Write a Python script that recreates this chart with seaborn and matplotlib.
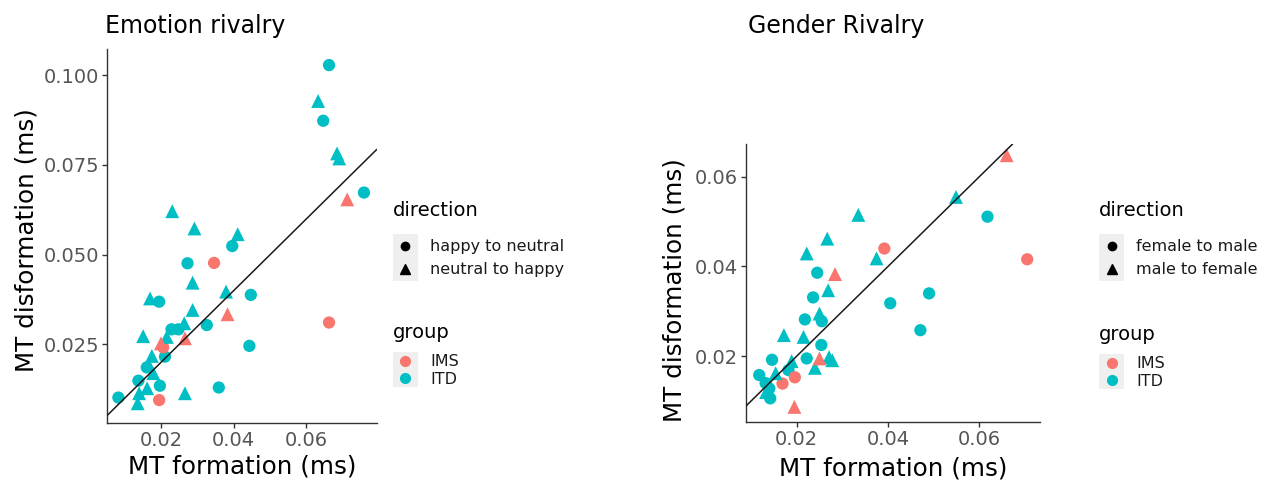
import numpy as np
import pandas as pd
import matplotlib
matplotlib.use("Agg")
import matplotlib.pyplot as plt
import seaborn as sns
from matplotlib.lines import Line2D
from matplotlib.patches import Rectangle
from matplotlib.legend_handler import HandlerBase
from matplotlib.ticker import FixedLocator, FuncFormatter

# ---------------- data ----------------
# Emotion rivalry: MT formation (x) vs MT disformation (y)
emo_itd_h2n_x = [0.0662, 0.0646, 0.0758, 0.0396, 0.0273, 0.0447, 0.0195, 0.0326, 0.0229,
                 0.0248, 0.0443, 0.0211, 0.0161, 0.0138, 0.0197, 0.0359, 0.0083]
emo_itd_h2n_y = [0.1028, 0.0873, 0.0673, 0.0524, 0.0476, 0.0388, 0.0369, 0.0304, 0.0292,
                 0.0292, 0.0246, 0.0216, 0.0186, 0.0149, 0.0135, 0.0130, 0.0102]
emo_itd_n2h_x = [0.0632, 0.0684, 0.0690, 0.0231, 0.0292, 0.0411, 0.0287, 0.0379, 0.0170,
                 0.0287, 0.0264, 0.0151, 0.0216, 0.0175, 0.0179, 0.0162, 0.0266, 0.0140, 0.0136]
emo_itd_n2h_y = [0.0928, 0.0782, 0.0768, 0.0621, 0.0573, 0.0557, 0.0422, 0.0397, 0.0378,
                 0.0346, 0.0309, 0.0273, 0.0271, 0.0218, 0.0170, 0.0128, 0.0114, 0.0114, 0.0086]
emo_ims_h2n_x = [0.0346, 0.0662, 0.0206, 0.0195]
emo_ims_h2n_y = [0.0477, 0.0311, 0.0242, 0.0095]
emo_ims_n2h_x = [0.0712, 0.0383, 0.0200, 0.0266]
emo_ims_n2h_y = [0.0654, 0.0334, 0.0253, 0.0267]

# Gender rivalry
gen_itd_f2m_x = [0.0618, 0.0245, 0.0490, 0.0236, 0.0405, 0.0255, 0.0218, 0.0471, 0.0254,
                 0.0222, 0.0146, 0.0118, 0.0132, 0.0142, 0.0182, 0.0140]
gen_itd_f2m_y = [0.0511, 0.0386, 0.0340, 0.0331, 0.0318, 0.0278, 0.0282, 0.0258, 0.0225,
                 0.0195, 0.0192, 0.0158, 0.0140, 0.0106, 0.0169, 0.0128]
gen_itd_m2f_x = [0.0549, 0.0335, 0.0267, 0.0222, 0.0375, 0.0269, 0.0250, 0.0172, 0.0215,
                 0.0271, 0.0278, 0.0240, 0.0189, 0.0154, 0.0133]
gen_itd_m2f_y = [0.0555, 0.0515, 0.0462, 0.0429, 0.0418, 0.0347, 0.0295, 0.0247, 0.0243,
                 0.0198, 0.0191, 0.0174, 0.0189, 0.0162, 0.0120]
gen_ims_f2m_x = [0.0392, 0.0705, 0.0196, 0.0169]
gen_ims_f2m_y = [0.0440, 0.0416, 0.0153, 0.0139]
gen_ims_m2f_x = [0.0660, 0.0284, 0.0250, 0.0195]
gen_ims_m2f_y = [0.0648, 0.0383, 0.0195, 0.0087]

groups = ["IMS", "ITD"]
emo_directions = ["happy to neutral", "neutral to happy"]
gen_directions = ["female to male", "male to female"]

emo_xticks = [0.02, 0.04, 0.06]
emo_yticks = [0.025, 0.050, 0.075, 0.100]
gen_xticks = [0.02, 0.04, 0.06]
gen_yticks = [0.02, 0.04, 0.06]

# ---------------- styling ----------------
W, H = 1273, 484
PAL = {"IMS": "#F8766D", "ITD": "#00BFC4"}
KEY_BG = "#EFEFEF"
TICK_COLOR = "#555555"
AXIS_COLOR = "#333333"

sns.set_theme(style="ticks")
plt.rcParams["font.family"] = ["DejaVu Sans"]
plt.rcParams["axes.linewidth"] = 1.0
plt.rcParams["text.color"] = "black"


def build_frame(parts, directions):
    rows = []
    for (xs, ys, grp, d) in parts:
        for x, y in zip(xs, ys):
            rows.append({"formation": x, "disformation": y, "group": grp, "direction": directions[d]})
    return pd.DataFrame(rows)


emo_df = build_frame([
    (emo_itd_h2n_x, emo_itd_h2n_y, "ITD", 0),
    (emo_itd_n2h_x, emo_itd_n2h_y, "ITD", 1),
    (emo_ims_h2n_x, emo_ims_h2n_y, "IMS", 0),
    (emo_ims_n2h_x, emo_ims_n2h_y, "IMS", 1),
], emo_directions)

gen_df = build_frame([
    (gen_itd_f2m_x, gen_itd_f2m_y, "ITD", 0),
    (gen_itd_m2f_x, gen_itd_m2f_y, "ITD", 1),
    (gen_ims_f2m_x, gen_ims_f2m_y, "IMS", 0),
    (gen_ims_m2f_x, gen_ims_m2f_y, "IMS", 1),
], gen_directions)


def draw_panel(ax, df, directions, xlim, ylim, xticks, yticks, yfmt):
    for d, mk, s in zip(directions, ["o", "^"], [78, 100]):
        sub = df[df["direction"] == d]
        sns.scatterplot(data=sub, x="formation", y="disformation", hue="group",
                        hue_order=groups, palette=PAL, marker=mk, s=s,
                        linewidth=0, legend=False, ax=ax, zorder=2)
    ax.axline((0, 0), slope=1, color="#1a1a1a", lw=1.1, zorder=3)
    ax.set_xlim(*xlim)
    ax.set_ylim(*ylim)
    ax.xaxis.set_major_locator(FixedLocator(xticks))
    ax.yaxis.set_major_locator(FixedLocator(yticks))
    ax.xaxis.set_major_formatter(FuncFormatter(lambda v, p: f"{v:.2f}"))
    ax.yaxis.set_major_formatter(FuncFormatter(lambda v, p: yfmt.format(v)))
    for side in ["top", "right"]:
        ax.spines[side].set_visible(False)
    for side in ["left", "bottom"]:
        ax.spines[side].set_color(AXIS_COLOR)
        ax.spines[side].set_linewidth(1.0)
    ax.tick_params(axis="both", length=3.5, width=1.0, color=AXIS_COLOR,
                   labelcolor=TICK_COLOR, labelsize=14, pad=2.5)
    ax.set_xlabel("MT formation (ms)", fontsize=17.7, color="black")
    ax.set_ylabel("MT disformation (ms)", fontsize=17.7, color="black")
    ax.xaxis.label.set_va("center")
    ax.yaxis.label.set_va("center")


class KeyHandler(HandlerBase):
    """Legend key drawn as a light grey square with the marker centred on it."""

    def create_artists(self, legend, orig_handle, xdescent, ydescent, width, height, fontsize, trans):
        bg = Rectangle((-xdescent, -ydescent), width, height, facecolor=KEY_BG,
                       edgecolor="none", transform=trans)
        mk = Line2D([width / 2 - xdescent], [height / 2 - ydescent],
                    marker=orig_handle.get_marker(), color=orig_handle.get_color(),
                    markersize=orig_handle.get_markersize(), linestyle="none",
                    transform=trans)
        return [bg, mk]


def add_key_legend(fig, handles, labels, x_px, top_px, key_h_px, fs=11.5):
    fpx = fs * 100 / 72
    # legend handle box height = fpx * (0.65 * handleheight + 0.245)
    hh = (key_h_px / fpx - 0.245) / 0.65
    fig.legend(handles, labels, loc="upper left",
               bbox_to_anchor=(x_px / W, 1 - top_px / H), bbox_transform=fig.transFigure,
               frameon=False, borderpad=0, borderaxespad=0, labelspacing=0,
               handlelength=25 / fpx, handleheight=hh,
               handletextpad=12 / fpx, fontsize=fs, labelcolor="#1a1a1a",
               handler_map={Line2D: KeyHandler()})


def add_legends(fig, directions, x_px, dir_title_y, dir_top, grp_title_y, grp_top):
    fig.text(x_px / W, 1 - dir_title_y / H, "direction", fontsize=14, va="center", ha="left")
    dir_handles = [Line2D([], [], marker="o", color="black", linestyle="none", markersize=6),
                   Line2D([], [], marker="^", color="black", linestyle="none", markersize=7)]
    add_key_legend(fig, dir_handles, directions, x_px, dir_top, 23.5)
    fig.text(x_px / W, 1 - grp_title_y / H, "group", fontsize=14, va="center", ha="left")
    grp_handles = [Line2D([], [], marker="o", color=PAL[g], linestyle="none", markersize=7)
                   for g in groups]
    add_key_legend(fig, grp_handles, groups, x_px, grp_top, 17.5)


fig = plt.figure(figsize=(W / 100, H / 100), dpi=100)
fig.patch.set_facecolor("white")

ax1 = fig.add_axes([107.3 / W, 1 - 422.7 / H, (376.7 - 107.3) / W, (422.7 - 49.3) / H])
ax2 = fig.add_axes([746 / W, 1 - 421.7 / H, (1040 - 746) / W, (421.7 - 144) / H])

draw_panel(ax1, emo_df, emo_directions, (0.00525, 0.0793), (0.0032, 0.1072),
           emo_xticks, emo_yticks, "{:.3f}")
draw_panel(ax2, gen_df, gen_directions, (0.0089, 0.0733), (0.0054, 0.0673),
           gen_xticks, gen_yticks, "{:.2f}")

ax1.xaxis.set_label_coords(0.5, -0.118)
ax1.yaxis.set_label_coords(-0.299, 0.489)
ax2.xaxis.set_label_coords(0.5, -0.167)
ax2.yaxis.set_label_coords(-0.2415, 0.474)

fig.text(105 / W, 1 - 33 / H, "Emotion rivalry", fontsize=17, ha="left", va="baseline")
fig.text(748 / W, 1 - 33 / H, "Gender Rivalry", fontsize=17, ha="left", va="baseline")

add_legends(fig, emo_directions, 393, 210.7, 234, 333, 352)
add_legends(fig, gen_directions, 1099, 210.7, 234, 335, 354)

fig.savefig("out.png", dpi=100)
